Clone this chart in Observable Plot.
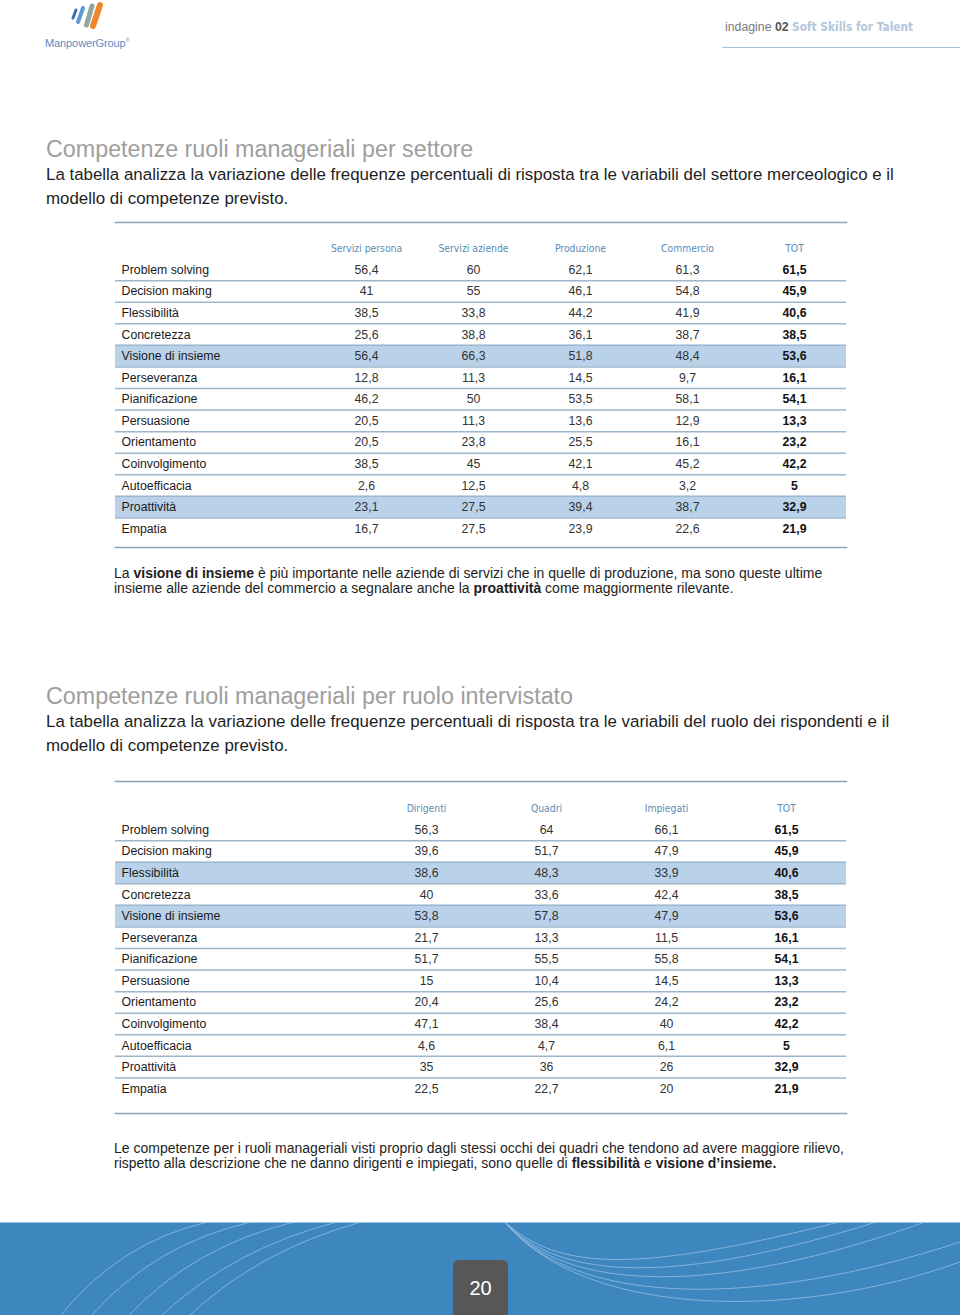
<!DOCTYPE html>
<html>
<head>
<meta charset="utf-8">
<script src="https://cdn.jsdelivr.net/npm/d3@7"></script>
<script src="https://cdn.jsdelivr.net/npm/@observablehq/plot@0.6"></script>
<style>
  html, body { margin: 0; padding: 0; background: #fff; }
  #page { position: relative; width: 960px; height: 1315px; overflow: hidden; font-family: "Liberation Sans", Arial, sans-serif; color: #1e1e1e; }
  .abs { position: absolute; }
  .title { left: 46px; font-size: 23.3px; line-height: 28px; color: #9e9e9e; font-family: "Liberation Sans", Arial, sans-serif; white-space: nowrap; }
  .subtitle { left: 46px; font-size: 16.9px; line-height: 24px; color: #1e1e1e; white-space: nowrap; }
  .caption { left: 114px; font-size: 14px; line-height: 15px; color: #1e1e1e; white-space: nowrap; }
  .caption b { font-weight: bold; }
  #hdr { left: 725px; top: 20px; font-size: 12.3px; white-space: nowrap; color: #7a7a7a; }
  #hdr b.n { color: #555; }
  #hdr span.s { color: #b2c7db; font-weight: bold; font-family: "DejaVu Sans Condensed", "Liberation Sans Narrow", sans-serif; font-size: 11.8px; }
  #hdrline { left: 722px; top: 47px; width: 238px; height: 0; border-top: 1.5px solid #a6c1d8; }
  #brand { left: 45px; top: 37px; font-size: 11px; color: #5a8ec2; white-space: nowrap; letter-spacing: -0.1px; }
  #brand sup { font-size: 5px; }
</style>
</head>
<body>
<div id="page">
  <svg class="abs" style="left:0;top:0" width="130" height="36">
    <g stroke-linecap="round" fill="none">
      <line x1="73" y1="18" x2="76" y2="10" stroke="#3f6fa8" stroke-width="3"/>
      <line x1="78" y1="22" x2="83" y2="8" stroke="#5b9bd3" stroke-width="4"/>
      <line x1="86.5" y1="25" x2="92" y2="6" stroke="#8fa89f" stroke-width="5"/>
      <line x1="93" y1="26" x2="100" y2="5" stroke="#f0862a" stroke-width="6"/>
    </g>
  </svg>
  <div id="brand" class="abs">ManpowerGroup<sup>®</sup></div>
  <div id="hdr" class="abs">indagine <b class="n">02</b> <span class="s">Soft Skills for Talent</span></div>
  <div id="hdrline" class="abs"></div>

  <div class="abs title" style="top:135px">Competenze ruoli manageriali per settore</div>
  <div class="abs subtitle" style="top:163px">La tabella analizza la variazione delle frequenze percentuali di risposta tra le variabili del settore merceologico e il<br>modello di competenze previsto.</div>
  <div id="table1" class="abs" style="left:0;top:220px"></div>
  <div class="abs caption" style="top:566px">La <b>visione di insieme</b> è più importante nelle aziende di servizi che in quelle di produzione, ma sono queste ultime<br>insieme alle aziende del commercio a segnalare anche la <b>proattività</b> come maggiormente rilevante.</div>

  <div class="abs title" style="top:682px">Competenze ruoli manageriali per ruolo intervistato</div>
  <div class="abs subtitle" style="top:710px">La tabella analizza la variazione delle frequenze percentuali di risposta tra le variabili del ruolo dei rispondenti e il<br>modello di competenze previsto.</div>
  <div id="table2" class="abs" style="left:0;top:779px"></div>
  <div class="abs caption" style="top:1141px">Le competenze per i ruoli manageriali visti proprio dagli stessi occhi dei quadri che tendono ad avere maggiore rilievo,<br>rispetto alla descrizione che ne danno dirigenti e impiegati, sono quelle di <b>flessibilità</b> e <b>visione d’insieme.</b></div>

  <svg class="abs" style="left:0;top:1222px" width="960" height="93">
    <rect x="0" y="0" width="960" height="93" fill="#3e86be"/>
    <line x1="0" y1="0.5" x2="960" y2="0.5" stroke="#9fc4e2" stroke-width="1"/>
    <g fill="none" stroke="#a9cdea" stroke-width="0.8" opacity="0.8">
      <path d="M61,93 Q120,20 208,0"/>
      <path d="M92,93 Q155,22 251,0"/>
      <path d="M129,93 Q195,24 294,0"/>
      <path d="M162,93 Q235,26 337,0"/>
      <path d="M190,93 Q260,28 361,0"/>
      <path d="M505,0 C560,50 640,50 839,0"/>
      <path d="M505,0 C560,60 680,62 876,0"/>
      <path d="M505,0 C565,72 720,74 925,0"/>
      <path d="M505,0 C575,86 760,86 960,20"/>
      <path d="M505,0 C585,98 800,98 960,40"/>
    </g>
    <path d="M453,44 Q453,38 459,38 L502,38 Q508,38 508,44 L508,93 L453,93 Z" fill="#575757"/>
    <text x="480.5" y="73" text-anchor="middle" fill="#ffffff" font-family="'Liberation Sans', Arial, sans-serif" font-size="20">20</text>
  </svg>
</div>
<script>
// ---------- Data ----------
const competences = ["Problem solving", "Decision making", "Flessibilità", "Concretezza", "Visione di insieme", "Perseveranza", "Pianificazione", "Persuasione", "Orientamento", "Coinvolgimento", "Autoefficacia", "Proattività", "Empatia"];

// Table 1: per settore
const sectorColumns = ["Servizi persona", "Servizi aziende", "Produzione", "Commercio", "TOT"];
const serviziPersona = [56.4, 41, 38.5, 25.6, 56.4, 12.8, 46.2, 20.5, 20.5, 38.5, 2.6, 23.1, 16.7];
const serviziAziende = [60, 55, 33.8, 38.8, 66.3, 11.3, 50, 11.3, 23.8, 45, 12.5, 27.5, 27.5];
const produzione = [62.1, 46.1, 44.2, 36.1, 51.8, 14.5, 53.5, 13.6, 25.5, 42.1, 4.8, 39.4, 23.9];
const commercio = [61.3, 54.8, 41.9, 38.7, 48.4, 9.7, 58.1, 12.9, 16.1, 45.2, 3.2, 38.7, 22.6];
const totSettore = [61.5, 45.9, 40.6, 38.5, 53.6, 16.1, 54.1, 13.3, 23.2, 42.2, 5, 32.9, 21.9];
const highlightSettore = ["Visione di insieme", "Proattività"];

// Table 2: per ruolo
const roleColumns = ["Dirigenti", "Quadri", "Impiegati", "TOT"];
const dirigenti = [56.3, 39.6, 38.6, 40, 53.8, 21.7, 51.7, 15, 20.4, 47.1, 4.6, 35, 22.5];
const quadri = [64, 51.7, 48.3, 33.6, 57.8, 13.3, 55.5, 10.4, 25.6, 38.4, 4.7, 36, 22.7];
const impiegati = [66.1, 47.9, 33.9, 42.4, 47.9, 11.5, 55.8, 14.5, 24.2, 40, 6.1, 26, 20];
const totRuolo = [61.5, 45.9, 40.6, 38.5, 53.6, 16.1, 54.1, 13.3, 23.2, 42.2, 5, 32.9, 21.9];
const highlightRuolo = ["Flessibilità", "Visione di insieme"];

// ---------- Drawing ----------
const HEADER = "\u0000header";
const fmt = v => String(v).replace(".", ",");

function makeTable({columns, series, highlights, height, insetTop, insetBottom, xInsetLeft, xInsetRight}) {
  const cells = [];
  columns.forEach((col, j) => {
    competences.forEach((row, i) => cells.push({row, col, value: series[j][i], tot: col === "TOT"}));
  });
  const marginTop = 2, marginBottom = 2;
  const domain = [HEADER, ...competences];
  const step = (height - marginTop - marginBottom - insetTop - insetBottom) / domain.length;
  const lineColor = "#9db6cb";
  return Plot.plot({
    width: 960,
    height,
    marginLeft: 115,
    marginRight: 114,
    marginTop,
    marginBottom,
    style: {fontFamily: "'Liberation Sans', Arial, sans-serif", fontSize: "12.3px", background: "transparent", overflow: "visible"},
    x: {type: "point", domain: columns, padding: 0, round: false, insetLeft: xInsetLeft, insetRight: xInsetRight, axis: null},
    y: {type: "band", domain, padding: 0, round: false, insetTop, insetBottom, axis: null},
    marks: [
      Plot.cell(highlights, {y: d => d, fill: "#b9d2ea", inset: 0}),
      Plot.ruleY(competences.slice(0, -1), {y: d => d, dy: step / 2, stroke: lineColor, strokeWidth: 1.5}),
      Plot.frame({anchor: "top", stroke: "#86a2ba", strokeWidth: 1.5}),
      Plot.frame({anchor: "bottom", stroke: "#86a2ba", strokeWidth: 1.5}),
      Plot.text(columns, {x: d => d, y: () => HEADER, text: d => d, fill: "#5a8bb6",
        fontFamily: "'Liberation Sans Narrow', 'DejaVu Sans Condensed', sans-serif", fontSize: 10.3}),
      Plot.text(competences, {y: d => d, text: d => d, frameAnchor: "left", textAnchor: "start", dx: 6, fill: "#1a1a1a"}),
      Plot.text(cells.filter(d => !d.tot), {x: "col", y: "row", text: d => fmt(d.value), fill: "#333"}),
      Plot.text(cells.filter(d => d.tot), {x: "col", y: "row", text: d => fmt(d.value), fill: "#111", fontWeight: "bold"})
    ]
  });
}

document.getElementById("table1").appendChild(makeTable({
  columns: sectorColumns,
  series: [serviziPersona, serviziAziende, produzione, commercio, totSettore],
  highlights: highlightSettore,
  height: 329, insetTop: 15, insetBottom: 8, xInsetLeft: 251, xInsetRight: 52
}));

document.getElementById("table2").appendChild(makeTable({
  columns: roleColumns,
  series: [dirigenti, quadri, impiegati, totRuolo],
  highlights: highlightRuolo,
  height: 336, insetTop: 16, insetBottom: 14, xInsetLeft: 311, xInsetRight: 60
}));
</script>
</body>
</html>
